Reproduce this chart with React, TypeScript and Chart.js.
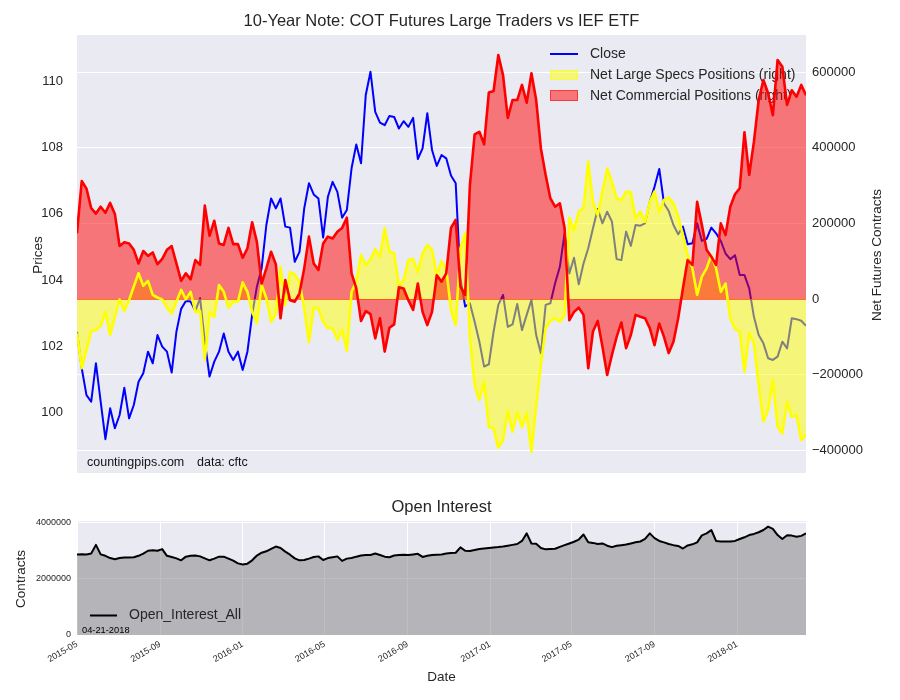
import React, { useEffect, useRef } from 'react';
import { Chart, registerables } from 'chart.js';

Chart.register(...registerables);

// ---------------- data ----------------
const START_DATE = '2015-05-01'; // first weekly observation

const closePrices = [
  102.44, 101.34, 100.53, 100.33, 101.49, 100.33, 99.2, 100.13, 99.53, 99.93,
  100.75, 99.83, 100.23, 100.93, 101.19, 101.84, 101.49, 102.34, 101.99, 101.84,
  101.21, 102.44, 103.13, 103.37, 103.35, 103.07, 103.45, 102.14, 101.09, 101.54,
  101.84, 102.39, 101.84, 101.59, 101.84, 101.29, 101.84, 102.95, 103.8, 104.35,
  105.66, 106.46, 106.16, 106.46, 105.61, 105.58, 104.55, 104.85, 106.16, 106.92,
  106.58, 106.46, 105.28, 106.51, 106.96, 106.66, 105.88, 106.11, 107.37, 108.09,
  107.52, 109.58, 110.28, 109.07, 108.75, 108.67, 108.95, 108.92, 108.57, 108.79,
  108.62, 108.89, 107.65, 107.97, 109.03, 107.92, 107.44, 107.77, 107.67, 107.15,
  106.92, 104.05, 103.2, 103.3, 102.74, 102.14, 101.39, 101.46, 102.44, 103.25,
  103.55, 102.59, 102.66, 103.28, 102.49, 102.95, 103.4, 102.34, 101.79, 103.25,
  103.3, 103.9, 104.4, 105.41, 104.2, 104.67, 103.87, 104.5, 104.96, 105.56,
  106.14, 105.71, 106.06, 105.76, 104.63, 104.6, 105.46, 105.03, 105.66, 105.64,
  105.71, 106.36, 106.81, 107.35, 106.31, 106.08, 105.66, 105.38, 105.61, 105.08,
  105.11, 105.71, 105.18, 105.24, 105.58, 105.41, 105.18, 104.8, 104.63, 104.75,
  104.15, 104.15, 103.75, 102.89, 102.34, 102.09, 101.64, 101.59, 101.69, 102.14,
  101.94, 102.85, 102.82, 102.77, 102.62,
];

const netLargeSpecs = [
  -91000, -183000, -135000, -85000, -82000, -71000, -34000, -95000, -47000, -1000,
  -32000, -3000, 33000, 68000, 35000, 48000, 11000, 4000, -1000, -23000,
  -38000, -7000, 24000, -1000, 19000, -34000, -32000, -161000, -36000, -47000,
  37000, 19000, -23000, -7000, -7000, 44000, 19000, -34000, -64000, 37000,
  2000, -60000, -40000, 85000, -16000, 71000, 65000, 46000, -26000, -114000,
  -23000, -25000, -60000, -77000, -77000, -108000, -82000, -137000, 19000, 46000,
  116000, 90000, 105000, 132000, 112000, 187000, 125000, 121000, 33000, 50000,
  103000, 106000, 71000, 121000, 143000, 130000, 63000, 100000, 81000, -29000,
  -69000, 134000, 174000, -100000, -227000, -267000, -219000, -338000, -342000, -393000,
  -373000, -296000, -351000, -300000, -338000, -302000, -404000, -280000, -174000, -77000,
  -58000, -51000, -60000, -42000, 215000, 182000, 231000, 241000, 363000, 257000,
  222000, 284000, 345000, 310000, 266000, 262000, 284000, 282000, 213000, 231000,
  204000, 257000, 284000, 230000, 262000, 268000, 253000, 218000, 169000, 116000,
  81000, 11000, 59000, 81000, 116000, 81000, 19000, 41000, -51000, -79000,
  -86000, -192000, -91000, -117000, -227000, -324000, -293000, -214000, -338000, -355000,
  -272000, -312000, -307000, -373000, -359000,
];

const netCommercial = [
  174000, 312000, 292000, 240000, 226000, 244000, 228000, 254000, 225000, 140000,
  150000, 147000, 130000, 94000, 127000, 114000, 123000, 92000, 106000, 130000,
  140000, 94000, 48000, 68000, 52000, 103000, 90000, 247000, 167000, 207000,
  147000, 143000, 188000, 145000, 145000, 109000, 134000, 203000, 151000, 41000,
  81000, 125000, 92000, -51000, 50000, -3000, -7000, 15000, 81000, 165000,
  94000, 77000, 147000, 165000, 160000, 178000, 188000, 215000, 68000, 28000,
  -58000, -32000, -40000, -104000, -51000, -139000, -76000, -67000, 31000, 28000,
  -3000, -29000, 41000, -34000, -69000, -34000, 63000, 46000, 68000, 188000,
  209000, 33000, 11000, 301000, 435000, 442000, 409000, 546000, 550000, 645000,
  592000, 479000, 526000, 526000, 566000, 519000, 597000, 526000, 398000, 328000,
  266000, 244000, 253000, 188000, -56000, -34000, -23000, -42000, -183000, -86000,
  -58000, -126000, -201000, -148000, -100000, -62000, -130000, -95000, -42000, -47000,
  -51000, -77000, -122000, -65000, -100000, -143000, -113000, -51000, 28000, 103000,
  90000, 257000, 196000, 130000, 112000, 90000, 200000, 169000, 244000, 277000,
  293000, 441000, 328000, 416000, 526000, 579000, 544000, 486000, 632000, 614000,
  513000, 552000, 535000, 566000, 539000,
];

const openInterest = [
  2870000, 2880000, 2870000, 2900000, 3210000, 2870000, 2820000, 2740000, 2700000, 2740000,
  2760000, 2760000, 2770000, 2820000, 2900000, 3000000, 3020000, 3000000, 3060000, 2820000,
  2780000, 2730000, 2660000, 2790000, 2820000, 2830000, 2800000, 2730000, 2660000, 2720000,
  2790000, 2790000, 2720000, 2650000, 2550000, 2510000, 2540000, 2660000, 2830000, 2930000,
  2980000, 3070000, 3150000, 3100000, 2970000, 2860000, 2730000, 2660000, 2670000, 2720000,
  2780000, 2800000, 2670000, 2740000, 2770000, 2800000, 2640000, 2720000, 2740000, 2790000,
  2830000, 2850000, 2850000, 2900000, 2850000, 2790000, 2770000, 2830000, 2850000, 2860000,
  2850000, 2870000, 2890000, 2780000, 2820000, 2850000, 2860000, 2870000, 2900000, 2920000,
  2930000, 3120000, 3000000, 2990000, 3030000, 3060000, 3080000, 3100000, 3120000, 3130000,
  3150000, 3180000, 3210000, 3240000, 3350000, 3620000, 3260000, 3250000, 3100000, 3050000,
  3060000, 3070000, 3140000, 3200000, 3260000, 3320000, 3400000, 3580000, 3300000, 3280000,
  3240000, 3260000, 3180000, 3130000, 3180000, 3200000, 3220000, 3260000, 3300000, 3330000,
  3420000, 3620000, 3450000, 3350000, 3300000, 3240000, 3200000, 3170000, 3080000, 3190000,
  3230000, 3300000, 3550000, 3620000, 3740000, 3350000, 3330000, 3330000, 3330000, 3350000,
  3420000, 3480000, 3560000, 3600000, 3660000, 3740000, 3860000, 3780000, 3560000, 3420000,
  3550000, 3540000, 3500000, 3530000, 3620000,
];

const monthTickLabels = ['2015-05', '2015-09', '2016-01', '2016-05', '2016-09', '2017-01', '2017-05', '2017-09', '2018-01'];
const priceTicks = [100, 102, 104, 106, 108, 110];
const netTicks = [-400000, -200000, 0, 200000, 400000, 600000];
const oiTicks = [0, 2000000, 4000000];

// ---------------- helpers ----------------
const DAY = 86400000;
const startMs = Date.parse(START_DATE + 'T00:00:00Z');
const weekDays = closePrices.map((_, i) => i * 7); // days since START_DATE
const lastDay = weekDays[weekDays.length - 1];
const monthTickDays = monthTickLabels.map((s) => (Date.parse(s + '-01T00:00:00Z') - startMs) / DAY);

const pts = (arr: number[]) => arr.map((v, i) => ({ x: weekDays[i], y: v }));

const FONT = '"Liberation Sans", Arial, Helvetica, sans-serif';
const TXT = '#262626';
const BG = '#EAEAF2';

const fmtNet = (v: number) => (v < 0 ? '\u2212' + Math.abs(v) : String(v));

const bgPlugin = {
  id: 'axesBg',
  beforeDraw(chart: any) {
    const { ctx, chartArea: a } = chart;
    ctx.save();
    ctx.fillStyle = '#ffffff';
    ctx.fillRect(0, 0, chart.width, chart.height);
    ctx.fillStyle = BG;
    ctx.fillRect(a.left, a.top, a.right - a.left, a.bottom - a.top);
    ctx.restore();
  },
};

const topDecor = {
  id: 'topDecor',
  beforeDatasetsDraw(chart: any) {
    const { ctx, chartArea: a } = chart;
    ctx.save();
    // legend (drawn under the plotted lines, as in the reference)
    const lx = a.right - 256;
    ctx.lineWidth = 2;
    ctx.strokeStyle = '#0000ff';
    ctx.beginPath();
    ctx.moveTo(lx, 54);
    ctx.lineTo(lx + 28, 54);
    ctx.stroke();
    ctx.fillStyle = 'rgba(255,255,0,0.5)';
    ctx.fillRect(lx, 70, 28, 10);
    ctx.lineWidth = 1;
    ctx.strokeStyle = 'rgba(255,255,0,0.5)';
    ctx.strokeRect(lx + 0.5, 70.5, 27, 9);
    ctx.fillStyle = 'rgba(255,0,0,0.5)';
    ctx.fillRect(lx, 90, 28, 11);
    ctx.strokeStyle = 'rgba(255,0,0,0.5)';
    ctx.strokeRect(lx + 0.5, 90.5, 27, 10);
    ctx.fillStyle = TXT;
    ctx.font = '14px ' + FONT;
    ctx.textBaseline = 'middle';
    ctx.textAlign = 'left';
    ctx.fillText('Close', lx + 40, 54);
    ctx.fillText('Net Large Specs Positions (right)', lx + 40, 75);
    ctx.fillText('Net Commercial Positions (right)', lx + 40, 96);
    // watermark
    ctx.fillStyle = '#111111';
    ctx.font = '12.5px ' + FONT;
    ctx.fillText('countingpips.com', a.left + 10, 463);
    ctx.fillText('data: cftc', a.left + 120, 463);
    ctx.restore();
  },
  afterDatasetDraw(chart: any, args: any) {
    if (args.index !== 2) return;
    const { ctx, chartArea: a } = chart;
    const y0 = Math.round(chart.scales.y2.getPixelForValue(0)) + 0.5;
    ctx.save();
    ctx.lineWidth = 1.2;
    ctx.strokeStyle = 'rgba(255,255,0,0.5)';
    ctx.beginPath();
    ctx.moveTo(a.left, y0);
    ctx.lineTo(a.right, y0);
    ctx.stroke();
    ctx.strokeStyle = 'rgba(255,0,0,0.55)';
    ctx.beginPath();
    ctx.moveTo(a.left, y0);
    ctx.lineTo(a.right, y0);
    ctx.stroke();
    ctx.restore();
  },
  afterDraw(chart: any) {
    const { ctx, chartArea: a } = chart;
    ctx.save();
    ctx.fillStyle = TXT;
    ctx.textAlign = 'center';
    ctx.textBaseline = 'middle';
    ctx.font = '16.5px ' + FONT;
    ctx.fillText('10-Year Note: COT Futures Large Traders vs IEF ETF', (a.left + a.right) / 2, 21);
    ctx.font = '13.5px ' + FONT;
    ctx.translate(38, 255);
    ctx.rotate(-Math.PI / 2);
    ctx.fillText('Prices', 0, 0);
    ctx.restore();
    ctx.save();
    ctx.fillStyle = TXT;
    ctx.textAlign = 'center';
    ctx.textBaseline = 'middle';
    ctx.font = '13.5px ' + FONT;
    ctx.translate(877, 255);
    ctx.rotate(-Math.PI / 2);
    ctx.fillText('Net Futures Contracts', 0, 0);
    ctx.restore();
  },
};

const botDecor = {
  id: 'botDecor',
  afterDatasetsDraw(chart: any) {
    const { ctx, chartArea: a } = chart;
    ctx.save();
    ctx.strokeStyle = '#000000';
    ctx.lineWidth = 2;
    ctx.beginPath();
    ctx.moveTo(a.left + 13, a.bottom - 19.5);
    ctx.lineTo(a.left + 40, a.bottom - 19.5);
    ctx.stroke();
    ctx.fillStyle = TXT;
    ctx.font = '14px ' + FONT;
    ctx.textBaseline = 'middle';
    ctx.textAlign = 'left';
    ctx.fillText('Open_Interest_All', a.left + 52, a.bottom - 19.5);
    ctx.fillStyle = '#000000';
    ctx.font = '9.3px ' + FONT;
    ctx.fillText('04-21-2018', a.left + 5, a.bottom - 4.5);
    ctx.restore();
  },
  afterDraw(chart: any) {
    const { ctx, chartArea: a } = chart;
    ctx.save();
    ctx.fillStyle = TXT;
    ctx.textAlign = 'center';
    ctx.textBaseline = 'middle';
    ctx.font = '16.5px ' + FONT;
    ctx.fillText('Open Interest', (a.left + a.right) / 2, 17);
    ctx.font = '13.5px ' + FONT;
    ctx.fillText('Date', (a.left + a.right) / 2, 187);
    ctx.translate(21, 89);
    ctx.rotate(-Math.PI / 2);
    ctx.fillText('Contracts', 0, 0);
    ctx.restore();
  },
};

const LINE_STYLE = { borderJoinStyle: 'round', borderCapStyle: 'butt', pointRadius: 0, tension: 0 };

function topConfig(): any {
  return {
    type: 'line',
    data: {
      datasets: [
        {
          ...LINE_STYLE, label: 'Close', data: pts(closePrices), yAxisID: 'y', borderColor: '#0000ff',
          borderWidth: 2, fill: false, order: 5,
        },
        {
          ...LINE_STYLE, label: 'specsFill', data: pts(netLargeSpecs), yAxisID: 'y2', borderColor: 'rgba(0,0,0,0)',
          borderWidth: 0, backgroundColor: 'rgba(255,255,0,0.5)', fill: 'origin', order: 4,
        },
        {
          ...LINE_STYLE, label: 'commFill', data: pts(netCommercial), yAxisID: 'y2', borderColor: 'rgba(0,0,0,0)',
          borderWidth: 0, backgroundColor: 'rgba(255,0,0,0.5)', fill: 'origin', order: 3,
        },
        {
          ...LINE_STYLE, label: 'Net Large Specs Positions (right)', data: pts(netLargeSpecs), yAxisID: 'y2',
          borderColor: '#ffff00', borderWidth: 2.6, fill: false, order: 2,
        },
        {
          ...LINE_STYLE, label: 'Net Commercial Positions (right)', data: pts(netCommercial), yAxisID: 'y2',
          borderColor: '#ff0000', borderWidth: 2.6, fill: false, order: 1,
        },
      ],
    },
    options: {
      responsive: false,
      animation: false,
      devicePixelRatio: 1,
      layout: { padding: { top: 35, bottom: 17, left: 0, right: 0 } },
      plugins: { legend: { display: false }, tooltip: { enabled: false }, title: { display: false } },
      scales: {
        x: { type: 'linear', min: 0, max: lastDay, display: false },
        y: {
          type: 'linear', position: 'left', min: 98.18, max: 111.39,
          grid: { display: false }, border: { display: false },
          afterBuildTicks: (s: any) => { s.ticks = priceTicks.map((v) => ({ value: v })); },
          afterFit: (s: any) => { s.width = 77; },
          ticks: { color: TXT, font: { family: FONT, size: 13 }, padding: 6, callback: (v: any) => String(v) },
        },
        y2: {
          type: 'linear', position: 'right', min: -460000, max: 698000,
          grid: { color: '#ffffff', lineWidth: 1, drawTicks: false }, border: { display: false },
          afterBuildTicks: (s: any) => { s.ticks = netTicks.map((v) => ({ value: v })); },
          afterFit: (s: any) => { s.width = 94; },
          ticks: { color: TXT, font: { family: FONT, size: 13 }, padding: 6, callback: (v: any) => fmtNet(v) },
        },
      },
    },
    plugins: [bgPlugin, topDecor],
  };
}

function botConfig(): any {
  return {
    type: 'line',
    data: {
      datasets: [
        {
          ...LINE_STYLE, label: 'Open_Interest_All', data: pts(openInterest), borderColor: '#000000', borderWidth: 2,
          backgroundColor: 'rgba(128,128,128,0.5)', fill: 'origin',
        },
      ],
    },
    options: {
      responsive: false,
      animation: false,
      devicePixelRatio: 1,
      layout: { padding: { top: 31, bottom: 0, left: 0, right: 94 } },
      plugins: { legend: { display: false }, tooltip: { enabled: false }, title: { display: false } },
      scales: {
        x: {
          type: 'linear', min: 0, max: lastDay,
          grid: { color: '#ffffff', lineWidth: 1, drawTicks: false }, border: { display: false },
          afterBuildTicks: (s: any) => { s.ticks = monthTickDays.map((v) => ({ value: v })); },
          afterFit: (s: any) => { s.height = 65; },
          ticks: {
            autoSkip: false, minRotation: 30, maxRotation: 30, padding: 4,
            color: TXT, font: { family: FONT, size: 9 },
            callback: (v: any) => {
              const k = monthTickDays.findIndex((d) => Math.abs(d - v) < 0.5);
              return k >= 0 ? monthTickLabels[k] : '';
            },
          },
        },
        y: {
          type: 'linear', position: 'left', min: 0, max: 4060000,
          grid: { color: '#ffffff', lineWidth: 1, drawTicks: false }, border: { display: false },
          afterBuildTicks: (s: any) => { s.ticks = oiTicks.map((v) => ({ value: v })); },
          afterFit: (s: any) => { s.width = 77; },
          ticks: { color: TXT, font: { family: FONT, size: 9 }, padding: 6, callback: (v: any) => String(v) },
        },
      },
    },
    plugins: [bgPlugin, botDecor],
  };
}

export default function App() {
  const topRef = useRef<HTMLCanvasElement>(null);
  const botRef = useRef<HTMLCanvasElement>(null);
  useEffect(() => {
    const c1 = new Chart(topRef.current as HTMLCanvasElement, topConfig());
    const c2 = new Chart(botRef.current as HTMLCanvasElement, botConfig());
    return () => {
      c1.destroy();
      c2.destroy();
    };
  }, []);
  return (
    <div style={{ position: 'fixed', left: 0, top: 0, width: 900, height: 700, background: '#ffffff' }}>
      <canvas ref={topRef} width={900} height={490} style={{ position: 'absolute', left: 0, top: 0, width: 900, height: 490 }} />
      <canvas ref={botRef} width={900} height={210} style={{ position: 'absolute', left: 0, top: 490, width: 900, height: 210 }} />
    </div>
  );
}
